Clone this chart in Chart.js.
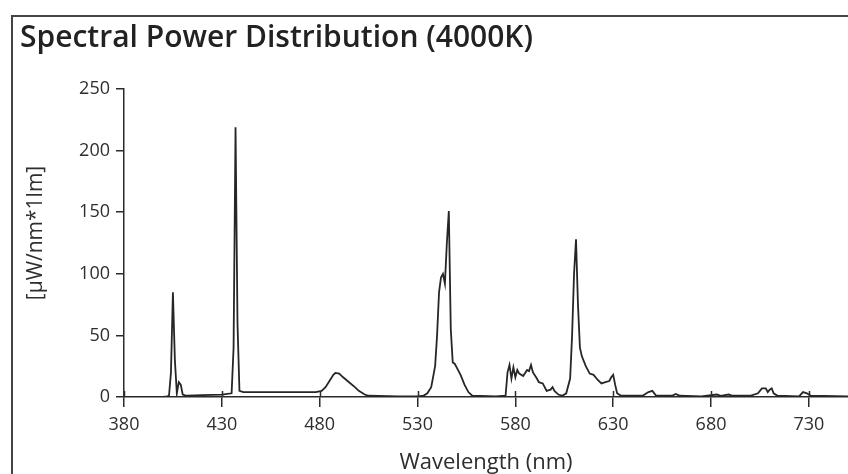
<!DOCTYPE html>
<html>
<head>
<meta charset="utf-8">
<script src="https://cdn.jsdelivr.net/npm/chart.js@4"></script>
<style>
  html, body { margin: 0; padding: 0; background: #fff; }
  #wrap { position: relative; width: 848px; height: 474px; overflow: hidden; }
  #frame { position: absolute; left: 11px; top: 15px; width: 900px; height: 500px;
           border-top: 2px solid #444; border-left: 2px solid #444; }
  canvas { position: absolute; left: 0; top: 0; }
</style>
</head>
<body>
<div id="wrap">
  <div id="frame"></div>
  <canvas id="spd" width="848" height="474"></canvas>
</div>
<script>
// wavelength (nm) and relative power
const wavelengths = [380, 400, 402, 403, 404, 405, 406, 407, 408, 409, 410, 412, 420, 430, 435, 436, 437, 438, 439, 441,
  460, 478, 481, 483, 485, 487, 488, 490, 492, 495, 498, 500, 503, 505, 520, 530, 533, 535, 537, 539,
  540, 541, 542, 543, 544, 545, 546, 547, 548, 549, 550, 552, 554, 556, 558, 570, 575, 576, 577, 578,
  579, 580, 581, 582, 584, 586, 587, 588, 589, 591, 592, 594, 596, 598, 599, 600, 602, 604, 606, 608,
  609, 610, 611, 612, 613, 614, 616, 618, 620, 622, 624, 626, 628, 629, 630, 631, 632, 634, 645, 648,
  650, 652, 660, 662, 664, 675, 683, 685, 689, 691, 700, 704, 706, 708, 709, 710, 711, 712, 714, 725,
  727, 729, 731, 750];
const power = [0, 0, 0.5, 1, 20, 85, 30, 3, 12, 10, 2, 1, 1.5, 2, 3, 40, 219, 60, 5, 4,
  4, 4, 5, 8, 13, 18, 19.5, 19, 16, 12, 8, 5, 2, 1, 0.5, 0.5, 1, 3, 8, 25,
  50, 85, 97, 100, 92, 125, 151, 55, 28, 27, 24, 18, 10, 4, 1, 0.5, 1, 20, 26, 15,
  24, 16, 22, 19, 17, 22, 21, 26, 20, 15, 12, 11, 5, 6, 8, 5, 2, 1, 3, 15,
  50, 100, 128, 75, 40, 33, 25, 19, 18, 14, 11, 12, 13, 16, 18, 10, 3, 1, 1, 4,
  5, 1, 1, 2.5, 1, 0.5, 2, 1, 2, 1, 1, 3, 7, 7, 4, 6, 7, 3, 1, 0.5,
  4, 3, 1, 0.5];
const xTicks = [380, 430, 480, 530, 580, 630, 680, 730];
const yTicks = [0, 50, 100, 150, 200, 250];

const axisColor = '#2b2b2b';
const textColor = '#2e2e2e';
const font = 'Open Sans';

// x ticks cross the axis line (draw the part above it), y title sits a bit above centre
const extras = {
  id: 'extras',
  afterDraw(chart) {
    const {ctx, scales: {x}, chartArea} = chart;
    ctx.save();
    ctx.strokeStyle = axisColor;
    ctx.lineWidth = 1.5;
    x.ticks.forEach(t => {
      const px = Math.round(x.getPixelForValue(t.value)) + 0.5;
      ctx.beginPath();
      ctx.moveTo(px, chartArea.bottom);
      ctx.lineTo(px, chartArea.bottom - 6);
      ctx.stroke();
    });
    ctx.translate(36, 233);
    ctx.rotate(-Math.PI / 2);
    ctx.fillStyle = textColor;
    ctx.font = '21px "' + font + '"';
    ctx.textAlign = 'center';
    ctx.textBaseline = 'middle';
    ctx.fillText('[μW/nm*1lm]', 0, 0);
    ctx.restore();
  }
};

new Chart(document.getElementById('spd'), {
  type: 'line',
  data: {
    datasets: [{
      data: wavelengths.map((w, i) => ({x: w, y: power[i]})),
      borderColor: '#262626',
      borderWidth: 1.8,
      pointRadius: 0,
      tension: 0,
      fill: false
    }]
  },
  options: {
    responsive: false,
    animation: false,
    layout: {padding: {left: 20, right: 0, top: 0, bottom: 0}},
    plugins: {
      legend: {display: false},
      tooltip: {enabled: false},
      title: {
        display: true,
        text: 'Spectral Power Distribution (4000K)',
        align: 'start',
        color: '#222',
        font: {family: font, size: 30, weight: 600},
        padding: {top: 20, bottom: 33}
      }
    },
    scales: {
      x: {
        type: 'linear',
        min: 380,
        max: 750,
        afterBuildTicks: s => { s.ticks = xTicks.map(v => ({value: v})); },
        afterFit: s => { s.height = 77; },
        border: {color: axisColor, width: 1.5},
        grid: {drawOnChartArea: false, color: axisColor, lineWidth: 1.5, tickLength: 10},
        ticks: {color: textColor, font: {family: font, size: 18}, padding: 7, maxRotation: 0},
        title: {display: true, text: 'Wavelength (nm)', color: textColor,
                font: {family: font, size: 22, lineHeight: 1}, padding: {top: 0, bottom: 0}}
      },
      y: {
        min: 0,
        max: 250,
        afterBuildTicks: s => { s.ticks = yTicks.map(v => ({value: v})); },
        afterFit: s => { s.width = 104; },
        border: {color: axisColor, width: 1.5},
        grid: {drawOnChartArea: false, color: axisColor, lineWidth: 1.5, tickLength: 8},
        ticks: {color: textColor, font: {family: font, size: 18}, padding: 6}
      }
    }
  },
  plugins: [extras]
});
</script>
</body>
</html>
